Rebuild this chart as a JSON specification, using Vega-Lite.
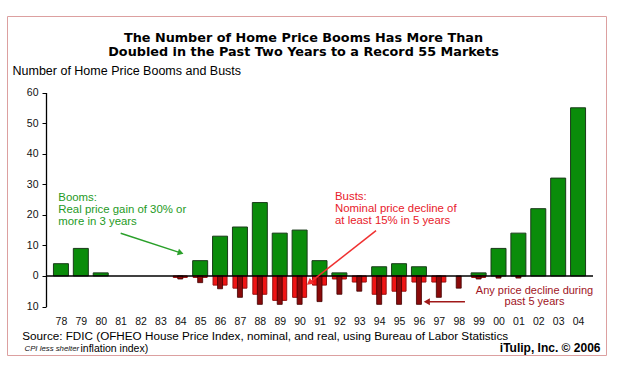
{
  "$schema": "https://vega.github.io/schema/vega-lite/v6.json",
  "width": 599,
  "height": 339,
  "autosize": "none",
  "padding": {"left": 7, "top": 16, "right": 13, "bottom": 10},
  "background": "white",
  "config": {
    "view": {"stroke": "#dca0a0", "strokeWidth": 1},
    "font": "Liberation Sans",
    "axis": {"grid": false}
  },
  "title": {
    "text": ["The Number of Home Price Booms Has More Than", "Doubled in the Past Two Years to a Record 55 Markets"],
    "anchor": "middle",
    "frame": "group",
    "font": "DejaVu Sans",
    "fontSize": 12.8,
    "fontWeight": "bold",
    "color": "#000",
    "lineHeight": 13.6,
    "offset": -42.5,
    "dx": -3
  },
  "data": {
    "values": [
      {"year": 1978, "booms": 4, "busts": 0, "decline": 0},
      {"year": 1979, "booms": 9, "busts": 0, "decline": 0},
      {"year": 1980, "booms": 1, "busts": 0, "decline": 0},
      {"year": 1981, "booms": 0, "busts": 0, "decline": 0},
      {"year": 1982, "booms": 0, "busts": 0, "decline": 0},
      {"year": 1983, "booms": 0, "busts": 0, "decline": 0},
      {"year": 1984, "booms": 0, "busts": -0.5, "decline": -1},
      {"year": 1985, "booms": 5, "busts": -0.5, "decline": -2.2},
      {"year": 1986, "booms": 13, "busts": -3, "decline": -4.2},
      {"year": 1987, "booms": 16, "busts": -4, "decline": -7},
      {"year": 1988, "booms": 24, "busts": -6, "decline": -9.3},
      {"year": 1989, "booms": 14, "busts": -8, "decline": -9.3},
      {"year": 1990, "booms": 15, "busts": -7, "decline": -9.3},
      {"year": 1991, "booms": 5, "busts": -3, "decline": -8.4},
      {"year": 1992, "booms": 1, "busts": -1, "decline": -6},
      {"year": 1993, "booms": 0, "busts": -2, "decline": -5},
      {"year": 1994, "booms": 3, "busts": -6, "decline": -9.3},
      {"year": 1995, "booms": 4, "busts": -5, "decline": -9.3},
      {"year": 1996, "booms": 3, "busts": -2, "decline": -9.3},
      {"year": 1997, "booms": 0, "busts": -2, "decline": -7},
      {"year": 1998, "booms": 0, "busts": 0, "decline": -4},
      {"year": 1999, "booms": 1, "busts": -0.5, "decline": -1},
      {"year": 2000, "booms": 9, "busts": 0, "decline": -0.7},
      {"year": 2001, "booms": 14, "busts": 0, "decline": -0.7},
      {"year": 2002, "booms": 22, "busts": 0, "decline": 0},
      {"year": 2003, "booms": 32, "busts": 0, "decline": 0},
      {"year": 2004, "booms": 55, "busts": 0, "decline": 0}
    ]
  },
  "layer": [
    {
      "encoding": {
        "x": {
          "field": "year", "type": "quantitative",
          "scale": {"domain": [1977.5, 2004.5], "range": [39, 586], "nice": false, "zero": false},
          "axis": {
            "orient": "bottom", "offset": -48.5,
            "values": [1978,1979,1980,1981,1982,1983,1984,1985,1986,1987,1988,1989,1990,1991,1992,1993,1994,1995,1996,1997,1998,1999,2000,2001,2002,2003,2004],
            "labelExpr": "slice(toString(datum.value), 2)",
            "domain": false, "ticks": false, "tickSize": 0,
            "labelPadding": 9.5, "labelFontSize": 10.5, "labelColor": "#111", "labelFont": "Liberation Sans",
            "labelFlush": false, "labelOverlap": false,
            "title": "Source: FDIC (OFHEO House Price Index, nominal, and real, using Bureau of Labor Statistics",
            "titleX": 14.7, "titleY": 29.2, "titleAlign": "left", "titleBaseline": "middle", "titleAnchor": "start",
            "titleFontWeight": "normal", "titleFontSize": 11.7, "titleColor": "#000", "titleFont": "Liberation Sans"
          }
        },
        "y": {
          "type": "quantitative",
          "scale": {"domain": [-10, 60], "range": [290.5, 76.5], "nice": false, "zero": false},
          "axis": {
            "orient": "left", "offset": -39,
            "values": [-10, 0, 10, 20, 30, 40, 50, 60],
            "labelExpr": "format(abs(datum.value), 'd')",
            "domain": true, "domainColor": "#000", "domainWidth": 1.3,
            "ticks": true, "tickSize": 4, "tickColor": "#000", "tickWidth": 1,
            "labelPadding": 4, "labelFontSize": 10.5, "labelColor": "#111", "labelFont": "Liberation Sans",
            "title": "Number of Home Price Booms and Busts",
            "titleAngle": 0, "titleX": -34, "titleY": 54, "titleAlign": "left", "titleBaseline": "middle",
            "titleFontWeight": "normal", "titleFontSize": 12.5, "titleColor": "#000", "titleFont": "Liberation Sans"
          }
        }
      },
      "layer": [
        {
          "transform": [{"filter": "datum.booms > 0"}],
          "mark": {"type": "bar", "width": 15, "color": "#0a8c0a", "stroke": "#1b3b1b", "strokeWidth": 1},
          "encoding": {"y": {"field": "booms", "type": "quantitative"}}
        },
        {
          "transform": [{"filter": "datum.busts < 0"}],
          "mark": {"type": "bar", "width": 14, "color": "#f01414", "stroke": "#9a1010", "strokeWidth": 1},
          "encoding": {"y": {"field": "busts", "type": "quantitative"}}
        },
        {
          "transform": [{"filter": "datum.decline < 0"}],
          "mark": {"type": "bar", "width": 5, "color": "#8a0a0a", "stroke": "#400000", "strokeWidth": 0.8},
          "encoding": {"y": {"field": "decline", "type": "quantitative"}}
        }
      ]
    },
    {
      "data": {"values": [{}]},
      "mark": {"type": "rule", "color": "#000", "strokeWidth": 1.6},
      "encoding": {
        "x": {
          "datum": 1977.5, "type": "quantitative",
          "scale": {"domain": [1977.5, 2004.5], "range": [39, 586], "nice": false, "zero": false},
          "axis": {
            "orient": "bottom", "offset": -48.5, "labels": false, "ticks": false, "domain": false,
            "title": "CPI less shelter", "titleX": 17, "titleY": 41.5, "titleAlign": "left", "titleBaseline": "middle", "titleAnchor": "start",
            "titleFontStyle": "italic", "titleFontWeight": "normal", "titleFontSize": 7.8, "titleColor": "#111", "titleFont": "Liberation Sans"
          }
        },
        "x2": {"datum": 2004.5},
        "y": {
          "datum": 0, "type": "quantitative",
          "scale": {"domain": [-10, 60], "range": [290.5, 76.5], "nice": false, "zero": false},
          "axis": {
            "orient": "right", "offset": 0, "labels": false, "ticks": false, "domain": false,
            "title": "iTulip, Inc. © 2006", "titleAngle": 0, "titleX": -6, "titleY": 331.3, "titleAlign": "right", "titleBaseline": "middle",
            "titleFontWeight": "bold", "titleFontSize": 12, "titleColor": "#000", "titleFont": "Liberation Sans"
          }
        }
      }
    },
    {
      "data": {"values": [{}]},
      "layer": [
        {
          "mark": {"type": "rule", "color": "#2aa02a", "strokeWidth": 1.5},
          "encoding": {
            "x": {
              "datum": 1981.187, "type": "quantitative",
              "scale": {"domain": [1977.5, 2004.5], "range": [39, 586], "nice": false, "zero": false},
              "axis": {
                "orient": "bottom", "offset": -48.5, "labels": false, "ticks": false, "domain": false,
                "title": "inflation index)", "titleX": 73, "titleY": 41.5, "titleAlign": "left", "titleBaseline": "middle", "titleAnchor": "start",
                "titleFontWeight": "normal", "titleFontSize": 10.5, "titleColor": "#000", "titleFont": "Liberation Sans"
              }
            },
            "x2": {"datum": 1984.149},
            "y": {"datum": 13.94, "type": "quantitative", "scale": {"domain": [-10, 60], "range": [290.5, 76.5], "nice": false, "zero": false}, "axis": null},
            "y2": {"datum": 7.53}
          }
        },
        {
          "mark": {"type": "point", "shape": "triangle-right", "filled": true, "size": 45, "color": "#2aa02a", "opacity": 1, "angle": 18},
          "encoding": {
            "x": {"datum": 1984.149, "type": "quantitative"},
            "y": {"datum": 7.53, "type": "quantitative"}
          }
        },
        {
          "mark": {"type": "rule", "color": "#f03030", "strokeWidth": 1.5},
          "encoding": {
            "x": {"datum": 1993.79, "type": "quantitative"},
            "x2": {"datum": 1990.506},
            "y": {"datum": 14.79, "type": "quantitative"},
            "y2": {"datum": -2.25}
          }
        },
        {
          "mark": {"type": "point", "shape": "triangle-right", "filled": true, "size": 55, "color": "#f03030", "opacity": 1, "angle": 142},
          "encoding": {
            "x": {"datum": 1990.506, "type": "quantitative"},
            "y": {"datum": -2.25, "type": "quantitative"}
          }
        },
        {
          "mark": {"type": "rule", "color": "#a01818", "strokeWidth": 1.5},
          "encoding": {
            "x": {"datum": 1998.18, "type": "quantitative"},
            "x2": {"datum": 1996.297},
            "y": {"datum": -8.43, "type": "quantitative"}
          }
        },
        {
          "mark": {"type": "point", "shape": "triangle-right", "filled": true, "size": 50, "color": "#a01818", "opacity": 1, "angle": 180},
          "encoding": {
            "x": {"datum": 1996.297, "type": "quantitative"},
            "y": {"datum": -8.43, "type": "quantitative"}
          }
        },
        {
          "mark": {"type": "text", "align": "left", "baseline": "middle", "lineBreak": "\n", "lineHeight": 11.7, "fontSize": 11.4, "color": "#259a25", "font": "Liberation Sans"},
          "encoding": {
            "x": {"datum": 1978.107, "type": "quantitative"},
            "y": {"datum": 25.39, "type": "quantitative"},
            "text": {"value": "Booms:\nReal price gain of 30% or\nmore in 3 years"}
          }
        },
        {
          "mark": {"type": "text", "align": "left", "baseline": "middle", "lineBreak": "\n", "lineHeight": 11.7, "fontSize": 11.4, "color": "#e8202a", "font": "Liberation Sans"},
          "encoding": {
            "x": {"datum": 1991.765, "type": "quantitative"},
            "y": {"datum": 25.72, "type": "quantitative"},
            "text": {"value": "Busts:\nNominal price decline of\nat least 15% in 5 years"}
          }
        },
        {
          "mark": {"type": "text", "align": "center", "baseline": "middle", "lineBreak": "\n", "lineHeight": 11.5, "fontSize": 11, "color": "#a0141e", "font": "Liberation Sans"},
          "encoding": {
            "x": {"datum": 2001.613, "type": "quantitative"},
            "y": {"datum": -4.83, "type": "quantitative"},
            "text": {"value": "Any price decline during\npast 5 years"}
          }
        }
      ]
    }
  ],
  "resolve": {"scale": {"x": "independent", "y": "independent"}}
}
